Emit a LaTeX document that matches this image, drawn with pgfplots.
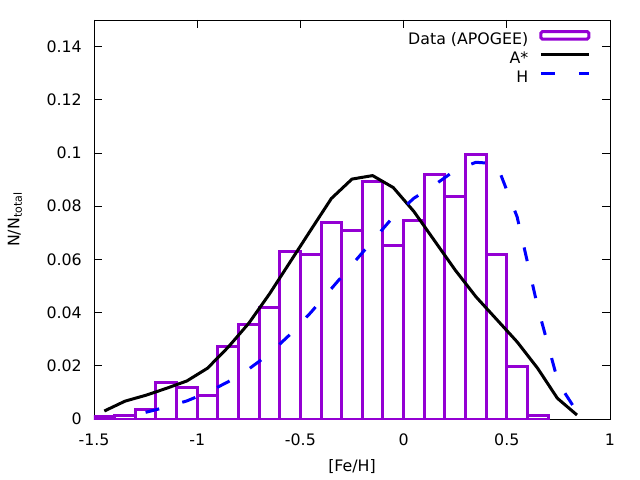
\documentclass[border=0pt]{standalone}
\usepackage{pgfplots}
\pgfplotsset{compat=1.18}
\usepackage{fontspec}
\setmainfont{DejaVu Sans}
\definecolor{dviolet}{RGB}{148,0,211}
\pgfplotsset{
  histlegend/.style={legend image code/.code={\draw[dviolet, line width=3bp, rounded corners=1.5bp] (0bp,0.8bp) rectangle (48bp,8.2bp);}},
  linelegend/.style={legend image code/.code={\draw[##1] (0bp,4.8bp) -- (48bp,4.8bp);}},
}
\begin{document}
\begin{tikzpicture}[font=\fontsize{15.8bp}{19bp}\selectfont]
\useasboundingbox (-94bp,-61bp) rectangle (546bp,419bp);
\begin{axis}[
  scale only axis,
  width=516bp, height=399bp,
  xmin=-1.5, xmax=1, ymin=0, ymax=0.15,
  xtick={-1.5,-1,-0.5,0,0.5,1},
  ytick={0,0.02,0.04,0.06,0.08,0.1,0.12,0.14},
  tick align=inside,
  major tick length=8bp,
  tick style={black, line width=0.8bp},
  axis line style={black, line width=0.8bp},
  /pgf/number format/assume math mode=true,
  yticklabel style={/pgf/number format/fixed, /pgf/number format/precision=2, anchor=east, inner sep=0pt, xshift=-12bp},
  xticklabel style={anchor=center, inner sep=0pt, yshift=-21bp},
  xlabel={[Fe/H]},
  ylabel={N/N\textsubscript{total}},
  every axis x label/.style={at={(axis description cs:0.5,0)}, anchor=center, yshift=-48bp},
  every axis y label/.style={at={(axis description cs:0,0.5)}, xshift=-79bp, anchor=center, rotate=90},
  legend plot pos=right,
  legend cell align=right,
  legend style={draw=none, fill=none, at={(axis description cs:0.9622,0.975)}, anchor=north east,
    inner sep=0pt, column sep=11bp, row sep=3.5bp,
    nodes={inner sep=0pt, text height=12bp, text depth=3.5bp}},
]
\addplot[ybar interval, draw=dviolet, fill=none, line width=3bp, histlegend]
coordinates {
(-1.5,0.0009) (-1.4,0.0015) (-1.3,0.0034) (-1.2,0.0137) (-1.1,0.0117)
(-1.0,0.0089) (-0.9,0.0272) (-0.8,0.0355) (-0.7,0.0418) (-0.6,0.0630)
(-0.5,0.0618) (-0.4,0.0740) (-0.3,0.0710) (-0.2,0.0893) (-0.1,0.0654)
(0.0,0.0747) (0.1,0.0920) (0.2,0.0837) (0.3,0.0994) (0.4,0.0619)
(0.5,0.0199) (0.6,0.0015) (0.7,0.0015)
};
\addlegendentry{Data (APOGEE)}
\addplot[black, line width=3bp, line join=round, linelegend]
coordinates {
(-1.45,0.0030) (-1.35,0.0067) (-1.25,0.0089) (-1.15,0.0115) (-1.05,0.0143)
(-0.95,0.0191) (-0.85,0.0270) (-0.75,0.0360) (-0.65,0.0470) (-0.55,0.0590)
(-0.45,0.0710) (-0.35,0.0829) (-0.25,0.0902) (-0.15,0.0915) (-0.05,0.0870)
(0.05,0.0780) (0.15,0.0670) (0.25,0.0560) (0.35,0.0460) (0.45,0.0375)
(0.55,0.0290) (0.65,0.0190) (0.745,0.0078) (0.84,0.0015)
};
\addlegendentry{A*}
\addplot[blue, line width=3bp, dash pattern=on 14bp off 24bp, linelegend]
coordinates {
(-1.25,0.0025) (-1.15,0.0045) (-1.05,0.0068) (-0.95,0.0100) (-0.85,0.0140)
(-0.75,0.0188) (-0.65,0.0245) (-0.55,0.0318) (-0.45,0.0400) (-0.35,0.0490)
(-0.25,0.0580) (-0.15,0.0670) (-0.05,0.0760) (0.05,0.0830) (0.15,0.0880)
(0.25,0.0935) (0.35,0.0965) (0.45,0.0960) (0.55,0.0760) (0.65,0.0420)
(0.75,0.0135) (0.85,0.0015)
};
\addlegendentry{H}
\end{axis}
\end{tikzpicture}
\end{document}
